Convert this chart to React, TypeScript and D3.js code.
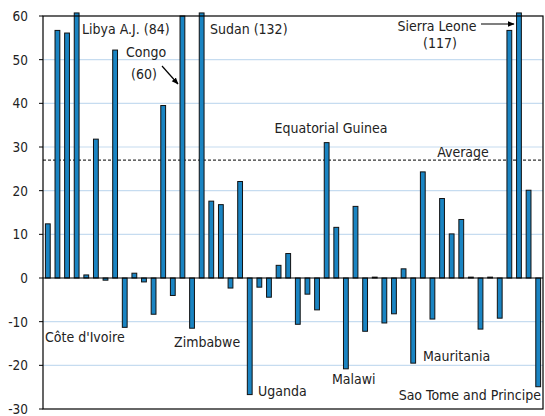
import React from "react";
import * as d3 from "d3";

const countries: string[] = Array.from({ length: 52 }, (_, i) => `c${i + 1}`);
const values: number[] = [
  12.4, 56.7, 56.1, 84, 0.7, 31.8, -0.5, 52.2, -11.3, 1.1,
  -0.9, -8.3, 39.5, -4.0, 60, -11.5, 132, 17.6, 16.8, -2.3,
  22.1, -26.7, -2.1, -4.4, 2.9, 5.6, -10.6, -3.7, -7.3, 31.0,
  11.6, -20.8, 16.4, -12.2, 0.2, -10.3, -8.2, 2.1, -19.5, 24.3,
  -9.4, 18.2, 10.1, 13.4, 0.2, -11.7, 0.2, -9.2, 56.7, 117,
  20.1, -24.9,
];
const yTicks: number[] = [-30, -20, -10, 0, 10, 20, 30, 40, 50, 60];
const gridValues: number[] = [-20, -10, 10, 20, 30, 40, 50];
const average = 27;

type Label = { text: string; x: number; y: number; anchor?: string };
const labels: Label[] = [
  { text: "Libya A.J. (84)", x: 82, y: 34 },
  { text: "Congo", x: 146, y: 57, anchor: "middle" },
  { text: "(60)", x: 144, y: 79, anchor: "middle" },
  { text: "Sudan (132)", x: 210, y: 34 },
  { text: "Equatorial Guinea", x: 331, y: 133, anchor: "middle" },
  { text: "Sierra Leone", x: 437, y: 31, anchor: "middle" },
  { text: "(117)", x: 440, y: 48, anchor: "middle" },
  { text: "Average", x: 463, y: 157, anchor: "middle" },
  { text: "Côte d'Ivoire", x: 45, y: 342 },
  { text: "Zimbabwe", x: 174, y: 347 },
  { text: "Uganda", x: 258, y: 396 },
  { text: "Malawi", x: 332, y: 384 },
  { text: "Mauritania", x: 423, y: 361 },
  { text: "Sao Tome and Principe", x: 541, y: 400, anchor: "end" },
];

const W = 545;
const H = 416;
const left = 43;
const right = 543;
const top = 16;
const bottom = 409;

export default function App() {
  const x = d3.scaleBand<string>().domain(countries).range([left, right]).paddingInner(0.5).paddingOuter(0.25);
  const y = d3.scaleLinear().domain([-30, 60]).range([bottom, top]);
  const capMax = 60.7;
  const font = "'DejaVu Sans Condensed', 'DejaVu Sans', sans-serif";
  return (
    <svg width={W} height={H} style={{ position: "absolute", left: 0, top: 0 }} fontFamily={font}>
      <defs>
        <marker id="arr" viewBox="0 0 10 10" refX="9" refY="5" markerWidth="7" markerHeight="7" orient="auto" markerUnits="userSpaceOnUse">
          <path d="M0,1 L10,5 L0,9 z" fill="#000" />
        </marker>
      </defs>
      <rect x={0} y={0} width={W} height={H} fill="#fff" />
      {gridValues.map((g) => (
        <line key={g} x1={left} x2={right} y1={y(g)} y2={y(g)} stroke="#c6dcf0" strokeWidth={1.2} />
      ))}
      <line x1={left} x2={right} y1={y(average)} y2={y(average)} stroke="#000" strokeWidth={1} strokeDasharray="3,2" />
      {values.map((v, i) => {
        const vv = Math.min(v, capMax);
        const y0 = y(0);
        const y1 = y(vv);
        const bx = x(countries[i])!;
        return (
          <rect key={i} x={bx} y={Math.min(y0, y1)} width={x.bandwidth()} height={Math.max(Math.abs(y1 - y0), 0.8)}
            fill="#1a84c2" stroke="#111" strokeWidth={1} />
        );
      })}
      <line x1={left} x2={right} y1={y(0)} y2={y(0)} stroke="#000" strokeWidth={1.2} />
      <rect x={left} y={top} width={right - left} height={bottom - top} fill="none" stroke="#000" strokeWidth={1.2} />
      {yTicks.map((t) => (
        <g key={t}>
          <line x1={left - 4} x2={left} y1={y(t)} y2={y(t)} stroke="#000" strokeWidth={1} />
          <text x={left - 15} y={y(t)} dy="0.36em" textAnchor="end" fontSize={13.5} fill="#222">{t}</text>
        </g>
      ))}
      {labels.map((l) => (
        <text key={l.text} x={l.x} y={l.y} textAnchor={l.anchor || "start"} fontSize={14} fill="#222">{l.text}</text>
      ))}
      <line x1={162} y1={66} x2={178} y2={84} stroke="#000" strokeWidth={1.2} markerEnd="url(#arr)" />
      <line x1={481} y1={24} x2={514} y2={24} stroke="#000" strokeWidth={1.2} markerEnd="url(#arr)" />
    </svg>
  );
}
